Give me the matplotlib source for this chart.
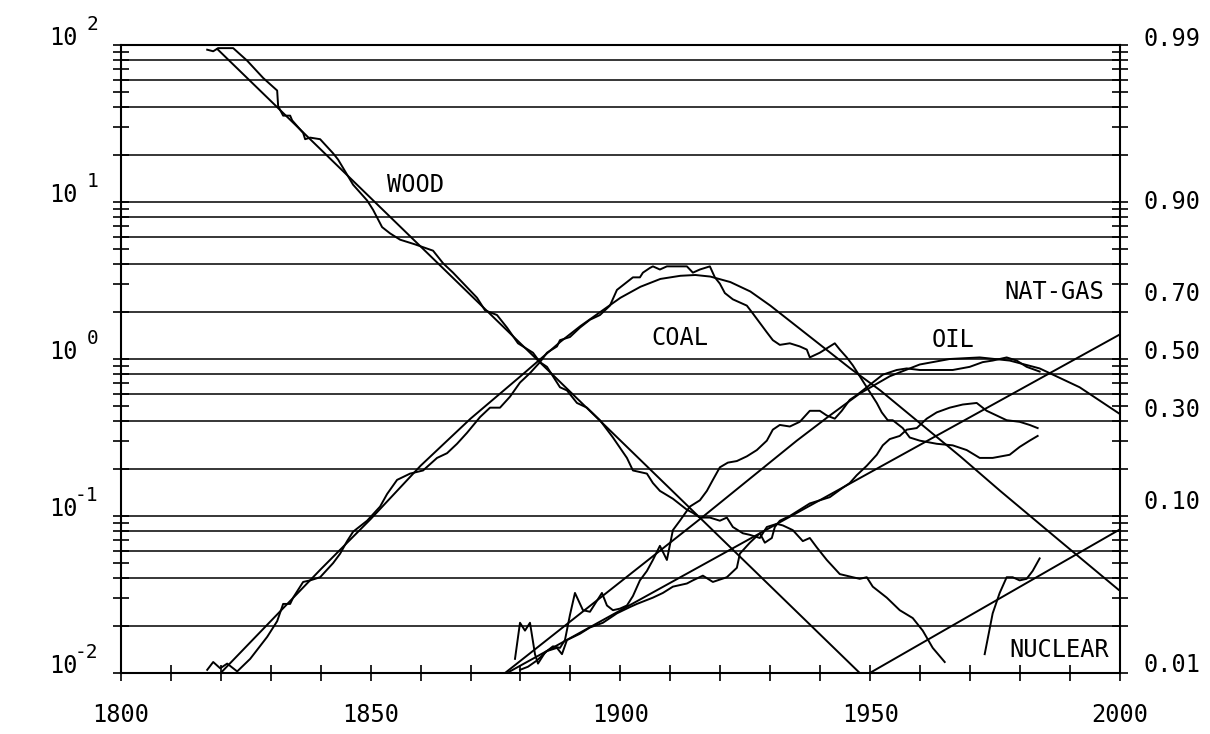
import numpy as np
import matplotlib
matplotlib.use('Agg')
import matplotlib.pyplot as plt
import matplotlib.transforms as mtransforms

plt.rcParams['font.family'] = ['DejaVu Sans Mono', 'DejaVu Sans']

# values: year and log10(F/(1-F))
wood_yr = [1817.3, 1818.5, 1819.5, 1822.5, 1825.3, 1828.5, 1831.3, 1831.5, 1832.5, 1833.9,
           1834.3, 1836.5, 1836.9, 1837.9, 1839.9, 1842.5, 1843.5, 1846.5, 1849.3, 1850.5,
           1852.3, 1853.9, 1855.9, 1858.9, 1862.5, 1864.5, 1866.5, 1871.3, 1872.9, 1875.3,
           1877.3, 1879.5, 1882.5, 1883.9, 1885.3, 1887.9, 1889.3, 1891.3, 1893.3, 1895.9,
           1898.5, 1901.3, 1902.5, 1905.3, 1906.5, 1907.9, 1910.5, 1913.3, 1914.5, 1915.9,
           1917.9, 1919.9, 1921.3, 1922.5, 1924.5, 1925.9, 1927.9, 1929.3, 1931.3, 1932.5,
           1934.5, 1936.5, 1937.9, 1939.3, 1941.3, 1943.9, 1946.5, 1947.9, 1949.3, 1950.5,
           1953.3, 1955.9, 1958.5, 1960.5, 1962.5, 1964.9]
wood_lg = [1.97, 1.96, 1.98, 1.98, 1.90, 1.79, 1.71, 1.61, 1.55, 1.55,
           1.52, 1.44, 1.40, 1.41, 1.40, 1.31, 1.27, 1.11, 1.01, 0.95,
           0.84, 0.80, 0.76, 0.73, 0.69, 0.61, 0.55, 0.39, 0.31, 0.28,
           0.20, 0.10, 0.04, -0.02, -0.05, -0.18, -0.20, -0.28, -0.31, -0.39,
           -0.50, -0.63, -0.71, -0.73, -0.79, -0.84, -0.89, -0.96, -0.98, -1.01,
           -1.01, -1.03, -1.01, -1.07, -1.11, -1.12, -1.14, -1.07, -1.05, -1.06,
           -1.09, -1.16, -1.14, -1.20, -1.28, -1.37, -1.39, -1.40, -1.39, -1.45,
           -1.52, -1.60, -1.65, -1.73, -1.84, -1.93]

coal_yr = [1817.3, 1818.5, 1819.9, 1821.3, 1823.3, 1825.9, 1829.3, 1831.3, 1832.5, 1833.9,
           1834.5, 1836.5, 1837.9, 1839.9, 1842.5, 1843.9, 1845.3, 1846.5, 1849.3, 1851.9,
           1853.3, 1855.3, 1857.9, 1860.5, 1863.3, 1865.3, 1867.3, 1869.3, 1871.9, 1873.9,
           1875.9, 1877.9, 1879.9, 1881.9, 1883.9, 1885.3, 1887.3, 1887.9, 1889.9, 1891.9,
           1893.9, 1895.9, 1897.9, 1899.3, 1901.3, 1902.5, 1903.9, 1904.5, 1905.9, 1906.5,
           1907.9, 1909.3, 1911.3, 1913.3, 1914.5, 1915.9, 1917.9, 1918.9, 1919.9, 1920.9,
           1922.5, 1925.3, 1926.5, 1927.9, 1929.3, 1930.5, 1931.9, 1933.9, 1935.9, 1937.3,
           1937.9, 1939.9, 1941.9, 1942.9, 1943.9, 1945.3, 1946.5, 1948.5, 1949.9, 1951.3,
           1952.3, 1953.5, 1954.5, 1956.5, 1957.9, 1959.9, 1963.3, 1966.5, 1969.3, 1971.9,
           1974.5, 1977.9, 1979.9, 1981.9, 1983.5]
coal_lg = [-1.98, -1.93, -1.97, -1.94, -1.99, -1.91, -1.77, -1.67, -1.56, -1.56,
           -1.52, -1.42, -1.41, -1.39, -1.30, -1.24, -1.16, -1.10, -1.03, -0.94,
           -0.86, -0.77, -0.73, -0.71, -0.63, -0.60, -0.54, -0.47, -0.37, -0.31,
           -0.31, -0.24, -0.15, -0.09, -0.02, 0.04, 0.08, 0.12, 0.14, 0.20,
           0.25, 0.28, 0.34, 0.44, 0.49, 0.52, 0.52, 0.55, 0.58, 0.59,
           0.57, 0.59, 0.59, 0.59, 0.55, 0.57, 0.59, 0.52, 0.48, 0.42,
           0.38, 0.34, 0.29, 0.23, 0.17, 0.12, 0.09, 0.10, 0.08, 0.06,
           0.01, 0.04, 0.08, 0.10, 0.06, 0.01, -0.04, -0.14, -0.21, -0.28,
           -0.34, -0.39, -0.39, -0.44, -0.50, -0.52, -0.54, -0.55, -0.58, -0.63,
           -0.63, -0.61, -0.56, -0.52, -0.49]

oil_yr = [1878.9, 1879.9, 1880.9, 1881.9, 1882.9, 1883.5, 1884.9, 1886.5, 1887.9, 1888.9,
          1889.9, 1890.9, 1892.5, 1893.9, 1895.3, 1896.3, 1897.3, 1898.5, 1899.9, 1901.3,
          1902.5, 1903.9, 1905.3, 1906.5, 1907.9, 1909.3, 1910.5, 1911.9, 1913.9, 1915.9,
          1917.3, 1918.5, 1919.9, 1921.5, 1923.3, 1925.3, 1927.3, 1929.3, 1930.5, 1931.9,
          1933.9, 1935.9, 1937.9, 1939.9, 1941.3, 1942.9, 1944.3, 1945.9, 1947.3, 1948.9,
          1950.5, 1952.5, 1955.3, 1957.3, 1959.9, 1963.3, 1966.5, 1969.9, 1972.5, 1974.5,
          1977.3, 1979.3, 1981.3, 1983.9]
oil_lg = [-1.91, -1.68, -1.73, -1.68, -1.88, -1.94, -1.87, -1.83, -1.84, -1.79,
          -1.63, -1.49, -1.60, -1.61, -1.54, -1.49, -1.57, -1.60, -1.59, -1.57,
          -1.51, -1.41, -1.35, -1.28, -1.19, -1.28, -1.09, -1.03, -0.94, -0.90,
          -0.84, -0.77, -0.69, -0.66, -0.65, -0.62, -0.58, -0.52, -0.45, -0.42,
          -0.43, -0.40, -0.33, -0.33, -0.36, -0.38, -0.33, -0.26, -0.23, -0.19,
          -0.15, -0.10, -0.07, -0.06, -0.07, -0.07, -0.07, -0.05, -0.02, -0.01,
          0.01, -0.01, -0.05, -0.08]

gas_yr = [1879.9, 1881.5, 1883.3, 1885.3, 1887.3, 1888.3, 1889.3, 1891.9, 1893.9, 1896.5,
          1899.3, 1901.9, 1903.3, 1906.5, 1908.5, 1910.5, 1913.3, 1914.5, 1916.5, 1918.5,
          1921.3, 1923.3, 1923.9, 1925.9, 1927.9, 1928.9, 1930.3, 1930.9, 1931.9, 1933.9,
          1935.9, 1937.9, 1939.9, 1941.9, 1944.5, 1945.9, 1947.3, 1949.3, 1951.3, 1952.5,
          1953.9, 1955.9, 1957.3, 1959.3, 1961.3, 1963.3, 1965.9, 1968.5, 1971.3, 1973.3,
          1975.3, 1977.3, 1979.9, 1981.9, 1983.5]
gas_lg = [-1.98, -1.96, -1.92, -1.86, -1.84, -1.88, -1.79, -1.75, -1.71, -1.68,
          -1.62, -1.58, -1.56, -1.52, -1.49, -1.45, -1.43, -1.41, -1.38, -1.42,
          -1.39, -1.33, -1.24, -1.17, -1.11, -1.17, -1.14, -1.07, -1.03, -1.00,
          -0.96, -0.92, -0.90, -0.88, -0.82, -0.79, -0.74, -0.68, -0.61, -0.55,
          -0.51, -0.49, -0.45, -0.44, -0.38, -0.34, -0.31, -0.29, -0.28, -0.33,
          -0.36, -0.39, -0.40, -0.42, -0.44]

nuc_yr = [1972.9, 1974.5, 1975.9, 1977.3, 1978.5, 1979.9, 1981.3, 1982.5, 1983.9]
nuc_lg = [-1.88, -1.62, -1.49, -1.39, -1.39, -1.41, -1.40, -1.35, -1.27]

# fitted substitution curves
wood_fit_yr = [1819.3, 1947.9]
wood_fit_lg = [1.975, -2.0]
coal_fit_yr = [1820, 1830, 1840, 1850, 1860, 1870, 1880, 1884, 1888, 1892, 1896, 1900,
               1904, 1908, 1912, 1915, 1918, 1922, 1926, 1930, 1934, 1938, 1942, 1946,
               1952, 1960, 1968, 1976, 1988, 1999.7]
coal_fit_lg = [-2.0, -1.67, -1.34, -1.02, -0.68, -0.38, -0.11, 0.0, 0.11, 0.21, 0.30, 0.39,
               0.46, 0.51, 0.53, 0.535, 0.525, 0.49, 0.43, 0.34, 0.24, 0.14, 0.04, -0.06,
               -0.20, -0.41, -0.62, -0.84, -1.16, -1.47]
oil_fit_yr = [1876.9, 1916.3, 1935.3, 1941.9, 1947.9, 1953.9, 1959.9, 1965.9, 1971.9,
              1977.9, 1983.9, 1991.9, 1999.7]
oil_fit_lg = [-2.0, -1.01, -0.52, -0.36, -0.22, -0.11, -0.035, 0.0, 0.01,
              -0.01, -0.06, -0.18, -0.345]
gas_fit_yr = [1877.3, 1999.7]
gas_fit_lg = [-2.0, 0.152]
nuc_fit_yr = [1949.9, 1999.7]
nuc_fit_lg = [-2.0, -1.09]

left_ticks = [1e-2, 1e-1, 1, 10, 100]
left_exps = ['-2', '-1', '0', '1', '2']
share_ticks = [0.99, 0.90, 0.70, 0.50, 0.30, 0.10, 0.01]
share_labels = ['0.99', '0.90', '0.70', '0.50', '0.30', '0.10', '0.01']
year_labels = [1800, 1850, 1900, 1950, 2000]

fs = 17
fig = plt.figure(figsize=(12.1, 7.34), dpi=100)
ax = fig.add_axes([0.0998, 0.0831, 0.8259, 0.8556])
ax.set_yscale('log')
ax.set_xlim(1800, 2000)
ax.set_ylim(1e-2, 1e2)

# horizontal grid at 1, 2, 4, 6, 8 of each decade
grid_levels = [m * 10.0 ** k for k in range(-2, 2) for m in (1, 2, 4, 6, 8)] + [100]
for g in grid_levels:
    ax.axhline(g, color='k', lw=1.1, zorder=1)

series = [(wood_yr, wood_lg), (coal_yr, coal_lg), (oil_yr, oil_lg), (gas_yr, gas_lg),
          (nuc_yr, nuc_lg), (wood_fit_yr, wood_fit_lg), (coal_fit_yr, coal_fit_lg),
          (oil_fit_yr, oil_fit_lg), (gas_fit_yr, gas_fit_lg), (nuc_fit_yr, nuc_fit_lg)]
for yr, lg in series:
    ax.plot(yr, np.power(10.0, lg), color='k', lw=1.4, zorder=3)

# ticks
ax.set_xticks(np.arange(1800, 2001, 10))
ytick_pos = [m * 10.0 ** k for k in range(-2, 2) for m in range(1, 10)] + [100]
ax.yaxis.set_major_locator(matplotlib.ticker.FixedLocator(ytick_pos))
ax.yaxis.set_minor_locator(matplotlib.ticker.NullLocator())
ax.tick_params(which='both', direction='inout', length=11, width=1.2,
               left=True, right=True, bottom=True, top=False,
               labelleft=False, labelbottom=False)
for s in ax.spines.values():
    s.set_linewidth(1.5)

ytr = ax.get_yaxis_transform()
raise_up = ytr + mtransforms.ScaledTranslation(0, 0.15, fig.dpi_scale_trans)
for v, e in zip(left_ticks, left_exps):
    ax.text(-0.0427, v, '10', transform=ytr, ha='right', va='baseline', fontsize=fs)
    ax.text(-0.0227, v, e, transform=raise_up, ha='right', va='baseline', fontsize=14)
for f, s in zip(share_ticks, share_labels):
    ax.text(1.023, f / (1 - f), s, transform=ytr, ha='left', va='baseline', fontsize=fs)
xtr = ax.get_xaxis_transform()
for yv in year_labels:
    ax.text(yv, -0.078, str(yv), transform=xtr, ha='center', va='baseline', fontsize=fs)

# curve names
ax.text(1858.9, 12.8, 'WOOD', ha='center', va='center', fontsize=fs)
ax.text(1911.9, 1.36, 'COAL', ha='center', va='center', fontsize=fs)
ax.text(1966.5, 1.32, 'OIL', ha='center', va='center', fontsize=fs)
ax.text(1996.9, 2.67, 'NAT-GAS', ha='right', va='center', fontsize=fs)
ax.text(1987.9, 0.0140, 'NUCLEAR', ha='center', va='center', fontsize=fs)

fig.savefig('out.png', dpi=100)
